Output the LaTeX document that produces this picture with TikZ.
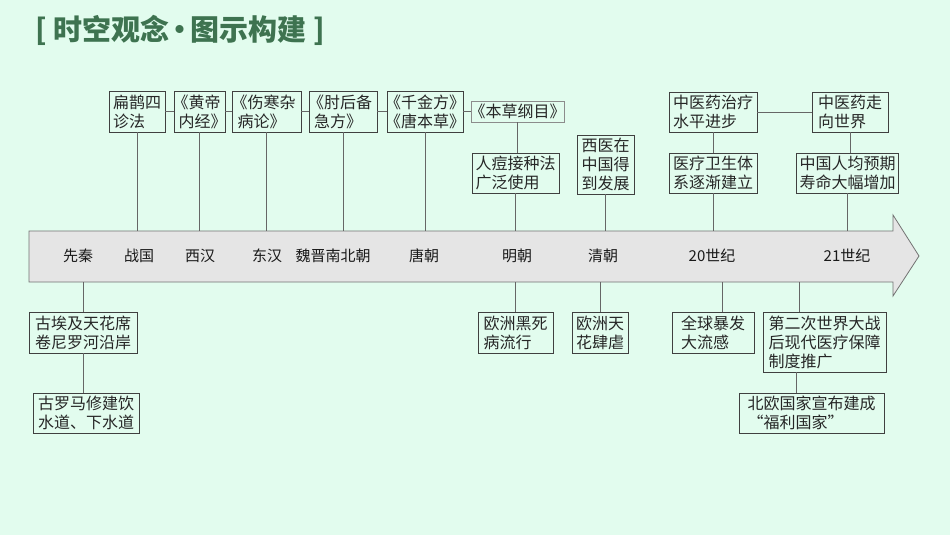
\documentclass[tikz,border=0pt]{standalone}
\usepackage{fontspec}
\setmainfont{Noto Sans CJK SC}
\usetikzlibrary{positioning}

\definecolor{bgmint}{RGB}{226,252,238}
\definecolor{titlegreen}{RGB}{62,115,80}
\definecolor{axisfill}{RGB}{229,229,229}

\newcommand\lbk{\kern-6pt《}
\newcommand\rbk{》\kern-6pt}

\tikzstyle{box} = [draw=black!75, line width=0.7pt, fill=bgmint, align=left,
  inner sep=3pt, font=\fontsize{16}{19}\selectfont, text=black!85]
\tikzstyle{era} = [font=\fontsize{15}{18}\selectfont, text=black!90]
\tikzstyle{link} = [draw=black!60, line width=0.7pt]

\begin{document}
\begin{tikzpicture}[x=1pt, y=-1pt]
    \useasboundingbox (0,0) rectangle (950,535);
    \fill[bgmint] (0,0) rectangle (950,535);

    \node[anchor=west, text=titlegreen, inner sep=0pt,
      font=\fontsize{29}{32}\selectfont\bfseries] (title) at (35,30)
      {[\kern7pt 时空观念\kern-4pt•\kern-4pt 图示构建\kern7pt]};

    % time axis
    \draw[fill=axisfill, draw=black!55, line width=0.8pt]
      (29,231) -- (893,231) -- (893,215) -- (919,256)
      -- (893,296) -- (893,282) -- (29,282) -- cycle;
    \coordinate (axtop) at (0,231);
    \coordinate (axbot) at (0,282);

    \foreach \x/\t [count=\i] in {78/先秦, 139/战国, 200/西汉, 267/东汉,
      333/魏晋南北朝, 424/唐朝, 517/明朝, 603/清朝, 712/20世纪, 847/21世纪}
      \node[era] (era\i) at (\x,256) {\t};

    % above the axis
    \node[box, minimum width=56, minimum height=41] (bq) at (137,111.5)
      {扁鹊四\\诊法};
    \node[box, minimum width=51, minimum height=41] (hd) at (199.5,111.5)
      {\lbk 黄帝\\内经\rbk};
    \node[box, minimum width=69, minimum height=41] (sh) at (266.5,111.5)
      {\lbk 伤寒杂\\病论\rbk};
    \node[box, minimum width=68, minimum height=41] (zh) at (343,111.5)
      {\lbk 肘后备\\急方\rbk};
    \node[box, minimum width=76, minimum height=41] (qj) at (425,111.5)
      {\lbk 千金方\rbk\\\lbk 唐本草\rbk};
    \node[box, minimum width=93, minimum height=21, draw=black!45] (bc)
      at (517.5,111.5) {\lbk 本草纲目\rbk};
    \node[box, minimum width=87, minimum height=40] (rd) at (515.5,173)
      {人痘接种法\\广泛使用};
    \node[box, minimum width=57, minimum height=57] (xy) at (605.5,164.5)
      {西医在\\中国得\\到发展};
    \node[box, minimum width=88, minimum height=40] (zy) at (713,112)
      {中医药治疗\\水平进步};
    \node[box, minimum width=88, minimum height=40] (yl) at (713,173)
      {医疗卫生体\\系逐渐建立};
    \node[box, minimum width=76, minimum height=40] (zz) at (850,112)
      {中医药走\\向世界};
    \node[box, minimum width=101, minimum height=40] (sm) at (847.5,173)
      {中国人均预期\\寿命大幅增加};

    % below the axis
    \node[box, minimum width=108, minimum height=41] (ae) at (83,332.5)
      {古埃及天花席\\卷尼罗河沿岸};
    \node[box, minimum width=106, minimum height=40] (rm) at (86,413)
      {古罗马修建饮\\水道、下水道};
    \node[box, minimum width=75, minimum height=41] (hs) at (515.5,332.5)
      {欧洲黑死\\病流行};
    \node[box, minimum width=56, minimum height=41] (th) at (600,332.5)
      {欧洲天\\花肆虐};
    \node[box, minimum width=82, minimum height=41] (lg) at (713,332.5)
      {全球暴发\\大流感};
    \node[box, minimum width=123, minimum height=60] (ez) at (824.5,342)
      {第二次世界大战\\后现代医疗保障\\制度推广};
    \node[box, minimum width=145, minimum height=40] (bo) at (811.5,413)
      {北欧国家宣布建成\\“福利国家”};

    % connectors
    \foreach \a/\b in {bq/hd, hd/sh, sh/zh, zh/qj, qj/bc, zy/zz}
      \draw[link] (\a.east) -- (\b.west);
    \foreach \n in {bq, hd, sh, zh, qj, rd, xy, yl, sm}
      \draw[link] (\n.south) -- (\n.south |- axtop);
    \draw[link] (bc.south) -- (bc.south |- rd.north);
    \draw[link] (zy.south) -- (zy.south |- yl.north);
    \draw[link] (zz.south) -- (zz.south |- sm.north);
    \foreach \n in {ae, hs, th}
      \draw[link] (\n.north) -- (\n.north |- axbot);
    \draw[link] (ae.south) -- (ae.south |- rm.north);
    \draw[link] ([xshift=9pt]lg.north) -- ([xshift=9pt]lg.north |- axbot);
    \draw[link] ([xshift=-25.5pt]ez.north) -- ([xshift=-25.5pt]ez.north |- axbot);
    \draw[link] ([xshift=-28pt]ez.south) -- ([xshift=-28pt]ez.south |- bo.north);
  \end{tikzpicture}
\end{document}
